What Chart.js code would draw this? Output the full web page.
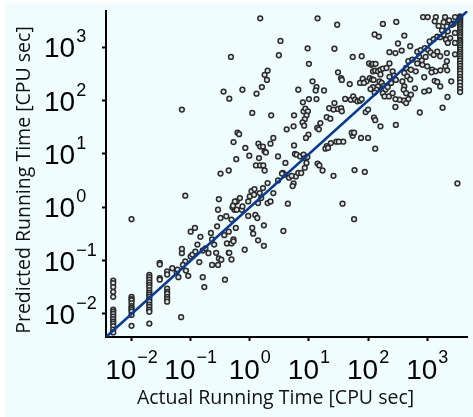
<!DOCTYPE html>
<html><head><meta charset="utf-8">
<script src="https://cdn.jsdelivr.net/npm/chart.js@4/dist/chart.umd.min.js"></script>
<style>html,body{margin:0;padding:0;background:#fff;overflow:hidden}</style>
</head><body>
<canvas id="c" width="473" height="417"></canvas>
<script>
// ---- axis settings / labels ----
const AXIS_MIN = 0.0037, AXIS_MAX = 4800;
const tickValues = [0.01, 0.1, 1, 10, 100, 1000];
const tickExponents = ['\u22122', '\u22121', '0', '1', '2', '3'];
const xTitle = 'Actual Running Time [CPU sec]';
const yTitle = 'Predicted Running Time [CPU sec]';

// ---- data: [actual, predicted] in CPU sec ----
const lowRange = [
 [0.0049,0.042],[0.0049,0.038],[0.0049,0.032],[0.0049,0.026],[0.0049,0.021],[0.0049,0.012],[0.0049,0.011],[0.0049,0.010],
 [0.0049,0.0089],[0.0049,0.0080],[0.0049,0.0072],[0.0049,0.0066],[0.0049,0.0059],[0.0049,0.0051],[0.0049,0.0045],
 [0.01,0.021],[0.01,0.019],[0.01,0.018],[0.01,0.016],[0.01,0.014],[0.01,0.013],[0.01,0.012],[0.01,0.011],[0.01,0.0096],[0.01,0.006],[0.01,0.6],
 [0.02,0.054],[0.02,0.049],[0.02,0.044],[0.02,0.039],[0.02,0.035],[0.02,0.032],[0.02,0.028],[0.02,0.025],[0.02,0.023],
 [0.02,0.021],[0.02,0.019],[0.02,0.017],[0.02,0.015],[0.02,0.0135],[0.02,0.012],[0.02,0.011],[0.02,0.0066],
 [0.03,0.091],[0.03,0.085],[0.03,0.047],[0.03,0.044],
 [0.04,0.063],[0.04,0.055],[0.04,0.030],[0.04,0.026],[0.04,0.024],[0.04,0.021],[0.04,0.019],[0.04,0.017],
 [0.049,0.072],[0.058,0.061],[0.062,0.049],[0.060,0.068],[0.069,0.0087],[0.071,0.138],[0.071,0.166],[0.083,0.065],
 [0.091,0.052],[0.081,0.097],[0.074,0.083],[0.1,0.12],[0.107,0.13],[0.12,0.148],[0.1,0.35],[0.118,0.41],[0.13,0.20],
 [0.146,0.28],[0.16,0.155],[0.14,0.094],[0.16,0.049],[0.17,0.032],[0.178,0.17],[0.20,0.138],[0.22,0.33],[0.23,0.25],
 [0.25,0.20],[0.27,0.14],[0.30,0.11],[0.38,0.044],[0.4,0.68],[0.37,0.30],[0.41,0.21],[0.44,0.14],[0.53,0.25],[0.58,0.41],
 [0.49,0.105],[0.32,0.63],[0.55,0.9],[0.28,0.44],[0.49,0.59],[0.44,0.35],[0.23,0.083],[0.29,0.083],[0.33,0.104],
 [0.071,68],[0.081,1.65]
];
const midRange = [
 [0.56,1.24],[0.73,0.9],[0.6,0.9],[0.51,1.0],[0.94,0.69],[1.24,0.72],[1.34,0.63],[1.1,0.41],[1.14,0.32],[1.38,0.24],
 [1.73,0.19],[1.73,0.46],[0.82,0.16],[0.49,0.21],[0.53,0.23],[0.45,0.14],[3.7,0.36],[58,0.6],
 [0.52,1.07],[0.6,1.29],[0.68,1.49],[0.75,1.04],[0.94,1.29],[1.0,1.6],[1.07,2.0],[1.18,1.72],[1.2,2.2],[1.47,1.85],
 [1.56,1.49],[1.38,1.2],[2.0,1.2],[2.24,1.29],[1.67,2.3],[2.0,2.85],[2.5,1.85],[3.0,3.2],[3.6,4.4],[3.9,4.1],[0.44,4.9],
 [0.48,660],[0.36,148],[0.45,109],[0.62,25],[0.32,4.3],[0.30,1.42],[0.29,0.9],[0.56,1.29],
 [5.5,2.8],[6.0,3.8],[6.6,4.4],[7.4,4.4],[8.5,5.5],[9.1,6.8],
 [1.5,3500],[14,3500],[30,2650],[3.3,1320],[3.1,710],[9.5,960],[27,940],[55,660],[78,680],[10,490],
 [2.0,365],[1.78,305],[1.95,245],[1.6,180],[1.3,135],[0.75,160],[6.6,160],[11.5,230],[13.4,180],[13,155],[18,155],
 [10,107],[13.4,107],[7.9,93],[8.1,63],[8.7,71],[9.6,63],[9.1,53],[8.5,45],[7.8,39],[8.3,34],[5.6,53],[5.5,33],[4.2,29],
 [2.3,53],[1.1,59],[0.66,23.5],[0.53,16.7],[0.59,8.0],[0.84,13],[0.98,9.3],[1.4,15.6],[1.5,13.8],[1.67,13.8],[1.78,11.2],
 [1.87,10.7],[1.43,8.4],[1.27,6.1],[1.5,6.1],[1.69,6.1],[1.78,4.9],[2.24,15.6],[2.5,20],[3.0,9.0],[4.0,6.8],[3.5,4.3],
 [4.6,3.6],[5.1,3.9],[5.3,2.5],[5.6,14.5],[5.8,10],[6.2,9.7],[7.1,9.0],[8.1,9.7],[8.5,8.4],[9.4,8.8],[9.8,23],[8.9,20],
 [13.8,31],[14.7,29],[15.6,38],[20,49],[23,46],[22,72],[26,68],[31,70],[27,90],[35,72],[36,63],[41,108],[51,104],
 [56,120],[60,104],[66,97],[73,100],[78,107],[49,205],[31,340],[35,265],[36,245],[73,215],[81,260],[94,230],
 [38,17],[55,22],[53,25],[58,25],[76,20],[100,20],[26,3.9],[17,4.9],[14,6.6],[15,6.1],[20,14],[19,12.6],[21,13],
 [23.5,16],[29,17],[32,17],[4.4,1.17],[37,1.17],[59,5.0],[88,4.6],[91,61],[100,68]
];
const highRange = [
 [178,2750],[300,3000],[850,3700],[1020,3700],[1400,3700],[2000,3700],[2950,3700],[1340,3080],[1900,2950],[2350,3200],
 [2800,2770],[3370,3200],[1560,2520],[2150,2460],[2600,2650],[1780,2080],[2230,2000],[2950,1860],[1100,1290],[1290,1420],
 [1480,1580],[1660,1550],[1900,1730],[2080,1390],[2450,1490],[2950,1210],[2230,1210],[680,830],[775,890],[910,970],
 [1040,890],[1140,800],[1290,720],[1480,830],[1660,680],[2150,780],[2950,740],[940,660],[810,570],[730,670],[480,550],
 [560,590],[680,500],[830,470],[1000,440],[1210,380],[1380,355],[1670,370],[2150,550],[2030,440],[2180,370],[440,410],
 [530,380],[640,355],[410,330],[460,285],[380,230],[410,185],[515,250],[620,170],[890,275],[1180,340],[1340,235],
 [1480,225],[1660,185],[2550,230],[400,160],[440,138],[530,129],[480,107],[400,100],[340,104],[290,107],[1070,155],
 [890,148],[2200,117],[290,76],[440,90],[750,60],[1820,74],[129,1740],[152,1590],[410,1660],[320,1180],[515,1050],
 [230,810],[290,780],[370,870],[107,265],[117,250],[124,245],[104,500],[114,470],[121,490],[134,490],[121,355],
 [132,365],[147,355],[162,380],[178,400],[162,310],[156,230],[170,215],[185,190],[196,160],[178,138],[190,120],
 [147,185],[138,160],[129,142],[121,180],[110,165],[85,215],[260,355],[275,295],[295,245],[230,280],[245,215],
 [215,180],[225,120],[260,138],[205,410],[230,500],[126,48],[132,43],[162,33],[295,35],[132,12.6],[3240,2.8]
];
const TIMEOUT = 3600;
const timeoutPredicted = [3800,3600,3400,3200,3000,2800,2600,2400,2200,2000,1850,1700,1550,1400,1300,1200,1100,1000,
 900,820,750,680,620,560,500,450,400,360,320,280,250,220,190,165,145];

// ---- build points ----
const toPt = p => ({x: p[0], y: p[1]});
const scatterPoints = lowRange.map(toPt).concat(midRange.map(toPt), highRange.map(toPt),
  timeoutPredicted.map(v => ({x: TIMEOUT, y: v})));

const bgPlugin = {
  id: 'bg',
  beforeDraw(chart) {
    const ctx = chart.ctx;
    ctx.save();
    ctx.fillStyle = '#ffffff';
    ctx.fillRect(0, 0, chart.width, chart.height);
    ctx.fillStyle = '#f0fdfe';
    ctx.fillRect(5, 3, chart.width - 5, chart.height - 3);
    ctx.restore();
  }
};

const labelPlugin = {
  id: 'labels',
  afterDraw(chart) {
    const ctx = chart.ctx, xs = chart.scales.x, ys = chart.scales.y;
    const area = chart.chartArea;
    const baseFont = '28px "Liberation Sans", Arial, sans-serif';
    const expFont = '18px "Liberation Sans", Arial, sans-serif';
    ctx.save();
    ctx.fillStyle = '#000';
    ctx.textBaseline = 'alphabetic';
    ctx.textAlign = 'left';
    tickValues.forEach((v, i) => {
      // y axis labels
      const py = ys.getPixelForValue(v);
      ctx.font = baseFont;
      const wb = ctx.measureText('10').width;
      ctx.fillText('10', 44, py + 10);
      ctx.font = expFont;
      ctx.fillText(tickExponents[i], 44 + wb + 1, py - 5);
      // x axis labels
      const px = xs.getPixelForValue(v);
      ctx.font = expFont;
      const we = ctx.measureText(tickExponents[i]).width;
      const start = px - (wb + 1 + we) / 2;
      ctx.font = baseFont;
      ctx.fillText('10', start, area.bottom + 42);
      ctx.font = expFont;
      ctx.fillText(tickExponents[i], start + wb + 1, area.bottom + 26);
    });
    // titles
    ctx.fillStyle = '#111';
    ctx.font = '19.5px "Open Sans", sans-serif';
    ctx.textAlign = 'center';
    ctx.fillText(xTitle, 275.5, 404);
    ctx.translate(29.5, 180);
    ctx.rotate(-Math.PI / 2);
    ctx.fillText(yTitle, 0, 0);
    ctx.restore();
  }
};

const axisCommon = {
  type: 'logarithmic',
  min: AXIS_MIN,
  max: AXIS_MAX,
  afterBuildTicks: axis => { axis.ticks = tickValues.map(v => ({value: v})); },
  ticks: {display: false},
  grid: {display: true, drawOnChartArea: false, drawTicks: true, tickLength: 4, tickWidth: 2, tickColor: '#000'},
  border: {display: true, color: '#000', width: 2},
  title: {display: false}
};

new Chart(document.getElementById('c'), {
  data: {
    datasets: [
      {
        type: 'line',
        data: [{x: AXIS_MIN, y: AXIS_MIN}, {x: AXIS_MAX, y: AXIS_MAX}],
        borderColor: '#0b3a8f',
        borderWidth: 2.6,
        pointRadius: 0,
        order: 0
      },
      {
        type: 'scatter',
        data: scatterPoints,
        pointRadius: 2.4,
        borderWidth: 1.5,
        borderColor: '#2b2b2b',
        backgroundColor: '#dfe6e6',
        order: 1
      }
    ]
  },
  options: {
    responsive: false,
    animation: false,
    devicePixelRatio: 1,
    layout: {padding: {left: 102, top: 11, right: 0, bottom: 76}},
    plugins: {legend: {display: false}, tooltip: {enabled: false}},
    scales: {
      x: Object.assign({position: 'bottom'}, axisCommon),
      y: Object.assign({position: 'left'}, axisCommon)
    }
  },
  plugins: [bgPlugin, labelPlugin]
});
</script>
</body></html>
